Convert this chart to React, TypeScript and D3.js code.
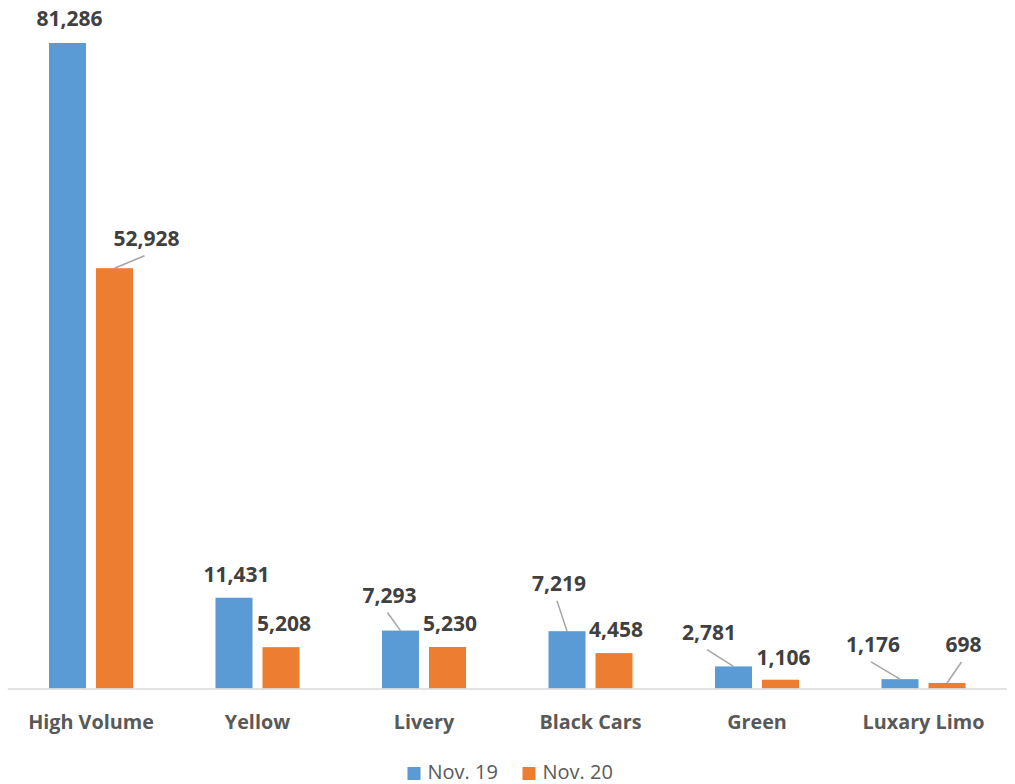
import React from "react";
import * as d3 from "d3";

const categories = ["High Volume", "Yellow", "Livery", "Black Cars", "Green", "Luxary Limo"];
const seriesNames = ["Nov. 19", "Nov. 20"];
const nov19 = [81286, 11431, 7293, 7219, 2781, 1176];
const nov20 = [52928, 5208, 5230, 4458, 1106, 698];
const colors = ["#5b9bd5", "#ed7d31"];

// label placement offsets (layout): [dx, dy, hasLeader]
const labelOffsets19: [number, number, boolean][] = [
  [2, -25.5, false], [2.5, -23.5, false], [-11, -35.6, true], [-8, -48, true], [-24.5, -34.4, true], [-27, -34.7, true],
];
const labelOffsets20: [number, number, boolean][] = [
  [32, -30, true], [3, -24, false], [2.5, -24, false], [2, -24, false], [3, -23, false], [16.5, -38.5, true],
];

const W = 1015;
const H = 784;
const FONT = "'Open Sans', 'Noto Sans', sans-serif";

export default function App() {
  const x0 = d3.scaleBand<string>().domain(categories).range([7.75, 1006.75]).paddingInner(0).paddingOuter(0);
  const groupW = 84;
  const x1 = d3.scaleBand<string>().domain(seriesNames).range([0, groupW]).paddingInner(0.2128).paddingOuter(0);
  const y = d3.scaleLinear().domain([0, 81286]).range([688.5, 43]);
  const fmt = d3.format(",");
  const series = [nov19, nov20];
  const offsets = [labelOffsets19, labelOffsets20];

  return (
    <svg width={W} height={H} style={{ position: "absolute", left: 0, top: 0, background: "#fff" }} fontFamily={FONT}>
      <rect x={0} y={0} width={W} height={H} fill="#fff" />
      {categories.map((c, i) => {
        const gx = (x0(c) as number) + x0.bandwidth() / 2 - groupW / 2;
        return (
          <g key={c}>
            {series.map((vals, s) => {
              const bx = gx + (x1(seriesNames[s]) as number);
              const bw = x1.bandwidth();
              const top = y(vals[i]);
              const cx = bx + bw / 2;
              const [dx, dy, leader] = offsets[s][i];
              const lx = cx + dx;
              const ly = top + dy;
              return (
                <g key={s}>
                  <rect x={bx} y={top} width={bw} height={y(0) - top} fill={colors[s]} />
                  {leader && (
                    <line x1={lx - 2} y1={ly + 17.5} x2={cx} y2={top} stroke="#a6a6a6" strokeWidth={1.5} />
                  )}
                  <text x={lx} y={ly} textAnchor="middle" dominantBaseline="central" fontSize={21} fontWeight={700} fill="#404040">
                    {fmt(vals[i])}
                  </text>
                </g>
              );
            })}
            <text x={(x0(c) as number) + x0.bandwidth() / 2} y={721} textAnchor="middle" dominantBaseline="central" fontSize={19.8} fontWeight={700} fill="#595959">
              {c}
            </text>
          </g>
        );
      })}
      <line x1={7.75} x2={1006.75} y1={689} y2={689} stroke="#d9d9d9" strokeWidth={1.5} />
      {seriesNames.map((n, s) => {
        const lx = s === 0 ? 407.5 : 522.5;
        return (
          <g key={n}>
            <rect x={lx} y={767} width={13} height={13} fill={colors[s]} />
            <text x={lx + 20} y={778.5} fontSize={20} fill="#595959">
              {n}
            </text>
          </g>
        );
      })}
    </svg>
  );
}
